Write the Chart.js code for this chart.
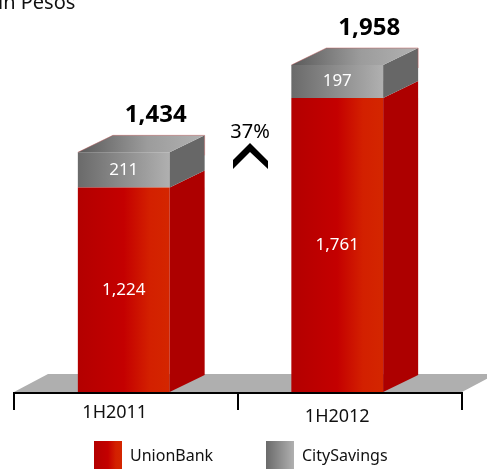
<!DOCTYPE html>
<html>
<head>
<meta charset="utf-8">
<script src="https://cdn.jsdelivr.net/npm/chart.js@4.4.0/dist/chart.umd.min.js"></script>
<style>
  html, body { margin: 0; padding: 0; background: #fff; }
  #wrap { width: 487px; height: 469px; }
</style>
</head>
<body>
<div id="wrap"><canvas id="chart"></canvas></div>
<script>
const periods = ['1H2011', '1H2012'];
const unionBank = [1224, 1761];
const citySavings = [211, 197];
const totals = [1434, 1958];
const growthLabel = '37%';
const unitLabel = 'in Pesos';

const FONT = '"Noto Sans", "Open Sans", sans-serif';
const BAR_PCT = 0.43;
const DX = 35, DY = -17; // depth of the 3d boxes

const redStops = [[0, '#b30000'], [0.5, '#c40000'], [0.78, '#d32000'], [1, '#d42600']];
const greyStops = [[0, '#6a6a6a'], [1, '#b0b0b0']];
const sideColors = ['#ad0000', '#676767'];

function frontGradient(c, stops) {
    const chart = c.chart;
    const xs = chart.scales.x;
    if (!xs || c.dataIndex === undefined) return stops[1][1];
    const cx = xs.getPixelForValue(c.dataIndex);
    const w = xs.width / periods.length * BAR_PCT;
    if (!isFinite(cx) || !isFinite(w) || w <= 0) return stops[1][1];
    const g = chart.ctx.createLinearGradient(cx - w / 2, 0, cx + w / 2, 0);
    stops.forEach(([o, col]) => g.addColorStop(o, col));
    return g;
}

function fmt(v) {
    return v.toLocaleString('en-US');
}

const boxes3d = {
    id: 'boxes3d',
    beforeDatasetsDraw(chart) {
        const { ctx, chartArea: a } = chart;
        const left = a.left - 3, right = a.right + 18;
        // floor
        ctx.save();
        ctx.fillStyle = '#afafaf';
        ctx.beginPath();
        ctx.moveTo(left, a.bottom);
        ctx.lineTo(left + 34, a.bottom - 18);
        ctx.lineTo(right + 34, a.bottom - 18);
        ctx.lineTo(right, a.bottom);
        ctx.closePath();
        ctx.fill();
        ctx.restore();
    },
    afterDatasetsDraw(chart) {
        const { ctx, chartArea: a } = chart;
        const metas = chart.data.datasets.map((d, i) => chart.getDatasetMeta(i));
        ctx.save();
        metas.forEach((meta, di) => {
            meta.data.forEach((bar, i) => {
                const { x, y, base, width } = bar.getProps(['x', 'y', 'base', 'width'], true);
                const r = x + width / 2, l = x - width / 2;
                // side face
                ctx.fillStyle = sideColors[di];
                ctx.beginPath();
                ctx.moveTo(r, y);
                ctx.lineTo(r + DX, y + DY);
                ctx.lineTo(r + DX, base + DY);
                ctx.lineTo(r, base);
                ctx.closePath();
                ctx.fill();
                // top face on the last segment
                if (di === metas.length - 1) {
                    const g = ctx.createLinearGradient(l, 0, r + DX, 0);
                    g.addColorStop(0, '#5a5a5a');
                    g.addColorStop(0.55, '#9c9c9c');
                    g.addColorStop(1, '#b2b2b2');
                    ctx.fillStyle = g;
                    ctx.beginPath();
                    ctx.moveTo(l, y);
                    ctx.lineTo(l + DX, y + DY);
                    ctx.lineTo(r + DX, y + DY);
                    ctx.lineTo(r, y);
                    ctx.closePath();
                    ctx.fill();
                    ctx.strokeStyle = 'rgba(190,90,90,0.6)';
                    ctx.lineWidth = 0.8;
                    ctx.beginPath();
                    ctx.moveTo(l, y);
                    ctx.lineTo(l + DX, y + DY);
                    ctx.lineTo(r + DX, y + DY);
                    ctx.lineTo(r + DX, y + DY + 20);
                    ctx.stroke();
                }
                // value label
                ctx.fillStyle = '#ffffff';
                ctx.font = '17px ' + FONT;
                ctx.textAlign = 'center';
                ctx.textBaseline = 'middle';
                ctx.fillText(fmt(chart.data.datasets[di].data[i]), x, (y + base) / 2);
            });
        });

        // totals
        const topMeta = metas[metas.length - 1];
        ctx.fillStyle = '#000';
        ctx.font = 'bold 24px ' + FONT;
        ctx.textAlign = 'center';
        ctx.textBaseline = 'alphabetic';
        topMeta.data.forEach((bar, i) => {
            ctx.fillText(fmt(totals[i]), bar.x + 32, bar.y - 30);
        });

        // axis line and ticks
        const left = a.left - 3, right = a.right + 18, mid = (left + right) / 2;
        ctx.strokeStyle = '#000';
        ctx.lineWidth = 2;
        ctx.beginPath();
        ctx.moveTo(left, a.bottom + 1);
        ctx.lineTo(right, a.bottom + 1);
        [left, mid, right].forEach(px => {
            ctx.moveTo(px, a.bottom);
            ctx.lineTo(px, a.bottom + 18);
        });
        ctx.stroke();

        // category labels
        ctx.font = '18px ' + FONT;
        ctx.fillStyle = '#111';
        ctx.textBaseline = 'middle';
        const xs = chart.scales.x;
        periods.forEach((p, i) => {
            const px = xs.getPixelForValue(i);
            ctx.fillText(p, px - (i === 0 ? 9 : 0), a.bottom + (i === 0 ? 21 : 25));
        });

        // growth marker
        const gx = mid + 12;
        ctx.font = '20px ' + FONT;
        ctx.fillStyle = '#000';
        ctx.textBaseline = 'alphabetic';
        ctx.fillText(growthLabel, gx, 138);
        ctx.beginPath();
        ctx.moveTo(gx - 17, 160);
        ctx.lineTo(gx, 143);
        ctx.lineTo(gx + 18, 161);
        ctx.lineTo(gx + 18, 169);
        ctx.lineTo(gx, 152);
        ctx.lineTo(gx - 17, 169);
        ctx.closePath();
        ctx.fill();

        // legend
        const legendX = [94, 266];
        const stopsList = [redStops, greyStops];
        chart.data.datasets.forEach((ds, i) => {
            const lx = legendX[i], ly = 441;
            const g = ctx.createLinearGradient(lx, 0, lx + 28, 0);
            stopsList[i].forEach(([o, col]) => g.addColorStop(o, col));
            ctx.fillStyle = g;
            ctx.fillRect(lx, ly, 28, 28);
            ctx.fillStyle = '#111';
            ctx.font = '16px ' + FONT;
            ctx.textAlign = 'left';
            ctx.textBaseline = 'middle';
            ctx.fillText(ds.label, lx + 36, ly + 15);
        });

        // unit label, cut by the top edge as in the source
        ctx.font = '20px ' + FONT;
        ctx.fillStyle = '#111';
        ctx.textAlign = 'left';
        ctx.textBaseline = 'alphabetic';
        ctx.fillText(unitLabel, -2, 9);
        ctx.restore();
    }
};

new Chart(document.getElementById('chart'), {
    type: 'bar',
    data: {
        labels: periods,
        datasets: [
            {
                label: 'UnionBank',
                data: unionBank,
                backgroundColor: c => frontGradient(c, redStops),
                borderWidth: 0
            },
            {
                label: 'CitySavings',
                data: citySavings,
                backgroundColor: c => frontGradient(c, greyStops),
                borderWidth: 0
            }
        ]
    },
    options: {
        responsive: true,
        maintainAspectRatio: false,
        animation: false,
        events: [],
        layout: { padding: { left: 17, right: 43, top: 58, bottom: 77 } },
        barPercentage: BAR_PCT,
        categoryPercentage: 1,
        scales: {
            x: { stacked: true, display: false },
            y: { stacked: true, display: false, min: 0, max: 2000 }
        },
        plugins: {
            legend: { display: false },
            tooltip: { enabled: false }
        }
    },
    plugins: [boxes3d]
});
</script>
</body>
</html>
